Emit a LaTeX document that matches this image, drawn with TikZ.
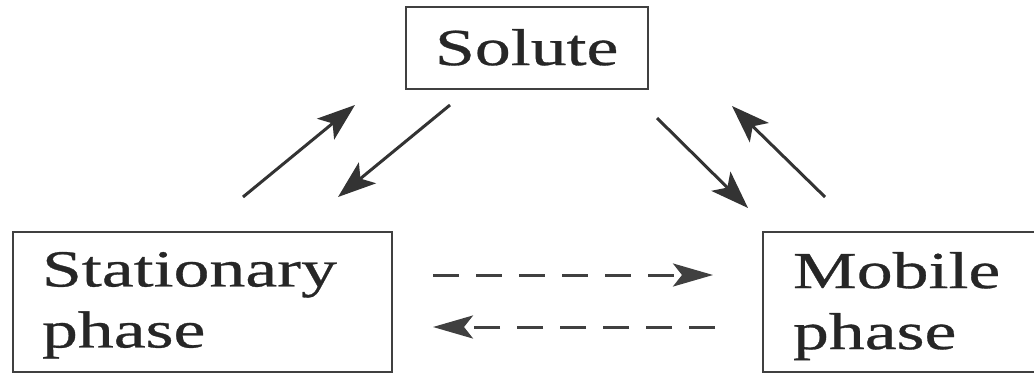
\documentclass[tikz,border=0pt]{standalone}
\usepackage{fontspec}
\newfontfamily\wideserif[FakeStretch=1.38,FakeBold=0.6]{Liberation Serif}
\usetikzlibrary{arrows.meta}
\tikzset{
  boxshape/.style={draw=black!75, line width=2.2pt, rectangle, inner sep=0pt, outer sep=0pt, anchor=north west},
  lbl/.style={inner sep=0pt, outer sep=0pt, anchor=north west, align=left, text=black!85,
    font=\wideserif\fontsize{52}{61}\selectfont},
  solidarrow/.style={draw=black!80, line width=3pt, -{Stealth[length=38pt, width=27pt, inset=9pt]}},
  dasharrow/.style={draw=black!75, line width=3pt, dash pattern=on 26pt off 17pt, -{Stealth[length=40pt, width=23pt, inset=9pt]}}
}
\begin{document}
\begin{tikzpicture}[x=1pt,y=-1pt]
\clip (0,0) rectangle (1034,375);
\useasboundingbox (0,0) rectangle (1034,375);
% boxes
\node[boxshape, minimum width=242pt, minimum height=82pt] (sol) at (406,7) {};
\node[boxshape, minimum width=379pt, minimum height=140pt] (stat) at (13,232) {};
\node[boxshape, minimum width=300pt, minimum height=140pt] (mob) at (763,232) {};
% texts
\node[lbl] (soltxt) at (435,29) {Solute};
\node[lbl] (stattxt) at (42,252) {Stationary\\phase};
\node[lbl] (mobtxt) at (793,252) {Mobile\\phase};
% arrow end points
\coordinate (a1s) at (243,197); \coordinate (a1e) at (355,105);
\coordinate (a2s) at (450,105); \coordinate (a2e) at (338,197);
\coordinate (a3s) at (657,118); \coordinate (a3e) at (748,208);
\coordinate (a4s) at (825,197); \coordinate (a4e) at (732,106);
\coordinate (d1s) at (433,275); \coordinate (d1e) at (713,275);
\coordinate (d2s) at (715,327); \coordinate (d2e) at (433,327);
\draw[solidarrow] (a1s) -- (a1e);
\draw[solidarrow] (a2s) -- (a2e);
\draw[solidarrow] (a3s) -- (a3e);
\draw[solidarrow] (a4s) -- (a4e);
\draw[dasharrow] (d1s) -- (d1e);
\draw[dasharrow] (d2s) -- (d2e);
\end{tikzpicture}
\end{document}
